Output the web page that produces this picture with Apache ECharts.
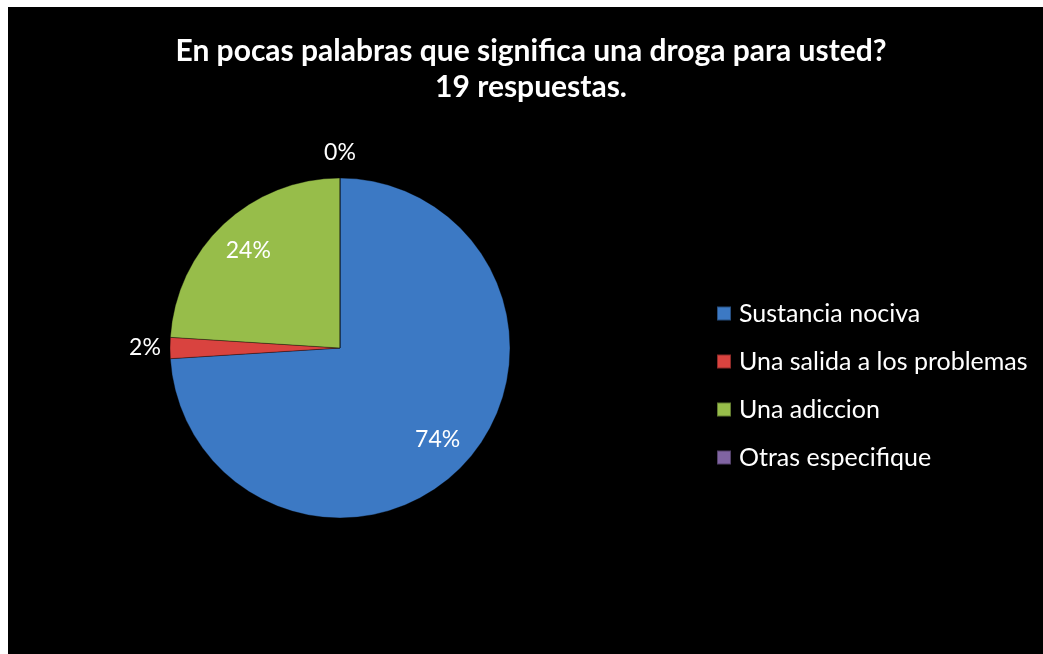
<!DOCTYPE html>
<html>
<head>
<meta charset="utf-8">
<script src="https://cdn.jsdelivr.net/npm/echarts@6/dist/echarts.min.js"></script>
<style>
  html, body { margin: 0; padding: 0; background: #ffffff; width: 1043px; height: 654px; overflow: hidden; }
  #chart { position: absolute; left: 8px; top: 7px; width: 1035px; height: 647px; background: #000000; }
</style>
</head>
<body>
<div id="chart"></div>
<script>
const titleLines = ['En pocas palabras que significa una droga para usted?', '19 respuestas.'];
const categories = ['Sustancia nociva', 'Una salida a los problemas', 'Una adiccion', 'Otras especifique'];
const percentages = [74, 2, 24, 0];
const sliceColors = ['#3c79c4', '#d9433f', '#97bd4a', '#8064a2'];
// which labels sit inside the slice (true) or just outside the rim (false)
const labelInside = [true, false, true, false];

const chart = echarts.init(document.getElementById('chart'));
const FONT = 'Lato, "Open Sans", sans-serif';

const mainData = categories.map((name, i) => ({
  name: name,
  value: percentages[i],
  itemStyle: { color: sliceColors[i] }
}));

function overlayData(showInside) {
  return categories.map((name, i) => ({
    name: name,
    value: percentages[i],
    itemStyle: { color: 'transparent', borderWidth: 0 },
    label: { show: labelInside[i] === showInside }
  }));
}

const labelStyle = {
  position: 'inside',
  color: '#ffffff',
  fontFamily: FONT,
  fontSize: 23,
  formatter: p => p.value + '%'
};

chart.setOption({
  backgroundColor: '#000000',
  animation: false,
  title: {
    text: titleLines.join('\n'),
    left: 518,
    top: 21,
    textAlign: 'center',
    textStyle: {
      color: '#ffffff',
      fontFamily: FONT,
      fontWeight: 'bold',
      fontSize: 30,
      lineHeight: 36
    }
  },
  legend: {
    orient: 'vertical',
    left: 703,
    top: 289,
    itemWidth: 14,
    itemHeight: 14,
    itemGap: 23,
    icon: 'rect',
    selectedMode: false,
    data: categories.map((name, i) => ({ name: name, itemStyle: { color: sliceColors[i] } })),
    textStyle: {
      color: '#ffffff',
      fontFamily: FONT,
      fontSize: 25,
      lineHeight: 25,
      padding: [0, 0, 0, 3]
    }
  },
  series: [
    {
      type: 'pie',
      center: [332, 341],
      radius: 170,
      startAngle: 90,
      clockwise: true,
      silent: true,
      label: { show: false },
      labelLine: { show: false },
      itemStyle: { borderColor: 'rgba(0,0,0,0.35)', borderWidth: 1 },
      data: mainData
    },
    {
      type: 'pie',
      center: [332, 341],
      radius: [92, 170],
      startAngle: 90,
      clockwise: true,
      silent: true,
      label: labelStyle,
      labelLine: { show: false },
      emphasis: { disabled: true },
      data: overlayData(true)
    },
    {
      type: 'pie',
      center: [332, 341],
      radius: [182, 202],
      startAngle: 90,
      clockwise: true,
      silent: true,
      label: labelStyle,
      labelLine: { show: false },
      emphasis: { disabled: true },
      data: overlayData(false)
    }
  ]
});
</script>
</body>
</html>
